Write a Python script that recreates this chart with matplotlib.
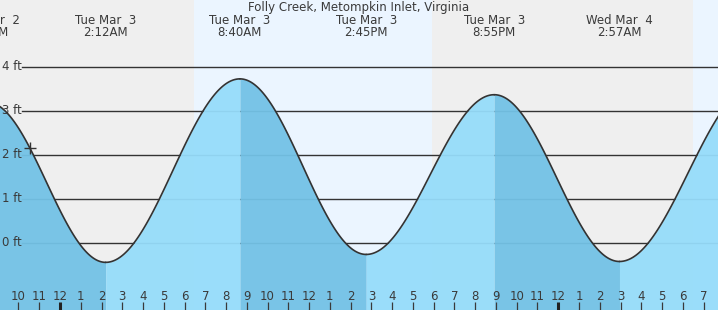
import numpy as np
import matplotlib.pyplot as plt

# tide extremes, hours counted from Tue Mar 3 00:00
tide_hours = [-3.5, 2.2, 8.667, 14.75, 20.917, 26.95, 33.55]
tide_feet = [3.2, -0.44, 3.73, -0.26, 3.37, -0.42, 3.6]
tide_dates = ['Mon Mar  2', 'Tue Mar  3', 'Tue Mar  3', 'Tue Mar  3',
              'Tue Mar  3', 'Wed Mar  4', 'Wed Mar  4']
tide_clock = ['8:30PM', '2:12AM', '8:40AM', '2:45PM', '8:55PM', '2:57AM', '9:33AM']

daylight = [(6.45, 17.92), (30.49, 42.0)]  # sunrise, sunset
now_hour = -1.445
feet_ticks = [0, 1, 2, 3, 4]
hour_ticks = list(range(-2, 32))

title = 'Folly Creek, Metompkin Inlet, Virginia'

W, H = 718, 310
PX_HOUR = 20.76   # pixels per hour
PX_FOOT = 44.0    # pixels per foot
X0, Y0 = 60, 243  # pixel position of midnight / 0 ft

NIGHT = '#efefef'
DAY = '#ebf5ff'
FALLING = '#73c2e6'
RISING = '#96dcfa'
INK = '#3a3a3a'


def tide_at(t):
    # half cosine between consecutive high/low waters
    for i in range(len(tide_hours) - 1):
        a, b = tide_hours[i], tide_hours[i + 1]
        if a <= t <= b:
            s = (t - a) / (b - a)
            return tide_feet[i] + (tide_feet[i + 1] - tide_feet[i]) * (1 - np.cos(np.pi * s)) / 2
    return np.nan


plt.rcParams['font.family'] = 'DejaVu Sans'
fig = plt.figure(figsize=(W / 100, H / 100), dpi=100)
ax = fig.add_axes([0, 0, 1, 1])
xmax = (W - X0) / PX_HOUR
ax.set_xlim(-X0 / PX_HOUR, xmax)
ax.set_ylim(-(H - Y0) / PX_FOOT, Y0 / PX_FOOT)
ax.set_axis_off()
fig.patch.set_facecolor(NIGHT)

for rise, sset in daylight:
    ax.axvspan(rise, sset, color=DAY, lw=0, zorder=0)

ytr = ax.get_yaxis_transform()
xtr = ax.get_xaxis_transform()

for f in feet_ticks:
    ax.plot([22 / W, 1], [f, f], color='#333333', lw=1.0, transform=ytr, zorder=1)
    ax.text(2 / W, f, f'{f} ft', transform=ytr, ha='left', va='center',
            fontsize=8.5, color=INK)

# water
for i in range(len(tide_hours) - 1):
    t = np.linspace(tide_hours[i], tide_hours[i + 1], 120)
    h = np.array([tide_at(v) for v in t])
    col = FALLING if tide_feet[i] > tide_feet[i + 1] else RISING
    ax.fill_between(t, h, -3, color=col, lw=0, alpha=0.95, zorder=2)
    ax.plot(t, h, color='#333333', lw=1.2, zorder=4, solid_capstyle='round')

ax.plot([now_hour], [tide_at(now_hour)], marker='+', ms=9, mew=1.0,
        color='#333333', zorder=5)

# hour ticks along the bottom
for hr in hour_ticks:
    midnight = hr % 24 == 0
    ax.plot([hr, hr], [0, 8 / H], color='#222222' if midnight else INK,
            lw=2.2 if midnight else 0.9, transform=xtr, zorder=5,
            solid_capstyle='butt')
    lab = hr % 12 or 12
    ax.text(hr, (H - 296) / H, str(lab), transform=xtr, ha='center',
            va='center', fontsize=8.5, color=INK, zorder=6)

# high / low labels (only those whose time falls inside the window)
for t, d, c in zip(tide_hours, tide_dates, tide_clock):
    if t > xmax:
        continue
    ax.text(t, 1 - 20 / H, d, transform=xtr, ha='center', va='center',
            fontsize=8.5, color=INK)
    ax.text(t, 1 - 32 / H, c, transform=xtr, ha='center', va='center',
            fontsize=8.5, color=INK)

ax.text(0.5, 1 - 7 / H, title, transform=ax.transAxes, ha='center',
        va='center', fontsize=8.5, color=INK)

fig.savefig('out.png', dpi=100, facecolor=NIGHT)
